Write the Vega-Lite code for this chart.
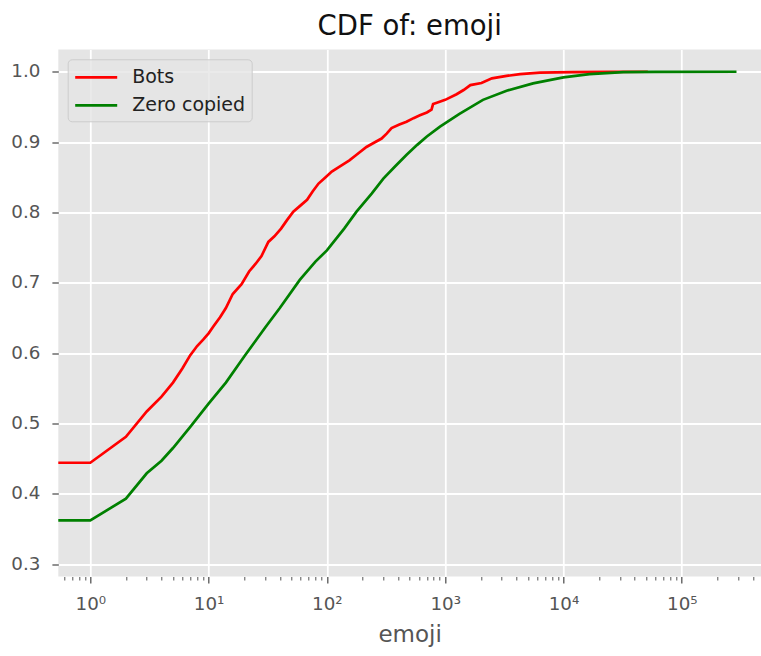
{
  "$schema": "https://vega.github.io/schema/vega-lite/v6.json",
  "width": 702.7,
  "height": 527,
  "autosize": {"type": "none"},
  "padding": {"left": 58.3, "top": 49.5, "right": 0, "bottom": 79.5},
  "background": "#ffffff",
  "title": {
    "text": "CDF of: emoji",
    "font": "DejaVu Sans",
    "fontSize": 27.5,
    "fontWeight": "normal",
    "color": "#111111",
    "anchor": "middle",
    "baseline": "alphabetic",
    "offset": 14.5,
    "dy": 27
  },
  "config": {
    "view": {"fill": "#e5e5e5", "stroke": null},
    "font": "DejaVu Sans"
  },
  "data": {
    "values": [
      {"series": "Bots", "x": 0.5, "y": 0.444},
      {"series": "Bots", "x": 1, "y": 0.444},
      {"series": "Bots", "x": 2, "y": 0.481},
      {"series": "Bots", "x": 3, "y": 0.517},
      {"series": "Bots", "x": 4, "y": 0.538},
      {"series": "Bots", "x": 5, "y": 0.558},
      {"series": "Bots", "x": 6, "y": 0.578},
      {"series": "Bots", "x": 7, "y": 0.597},
      {"series": "Bots", "x": 8, "y": 0.61},
      {"series": "Bots", "x": 9, "y": 0.619},
      {"series": "Bots", "x": 10, "y": 0.628},
      {"series": "Bots", "x": 11, "y": 0.638},
      {"series": "Bots", "x": 12.5, "y": 0.651},
      {"series": "Bots", "x": 14, "y": 0.664},
      {"series": "Bots", "x": 16, "y": 0.684},
      {"series": "Bots", "x": 19, "y": 0.698},
      {"series": "Bots", "x": 22, "y": 0.716},
      {"series": "Bots", "x": 25, "y": 0.727},
      {"series": "Bots", "x": 28, "y": 0.738},
      {"series": "Bots", "x": 32, "y": 0.758},
      {"series": "Bots", "x": 36, "y": 0.766},
      {"series": "Bots", "x": 41, "y": 0.777},
      {"series": "Bots", "x": 46, "y": 0.789},
      {"series": "Bots", "x": 52, "y": 0.801},
      {"series": "Bots", "x": 60, "y": 0.81},
      {"series": "Bots", "x": 68, "y": 0.818},
      {"series": "Bots", "x": 76, "y": 0.83},
      {"series": "Bots", "x": 85, "y": 0.841},
      {"series": "Bots", "x": 96, "y": 0.849},
      {"series": "Bots", "x": 110, "y": 0.858},
      {"series": "Bots", "x": 133, "y": 0.867},
      {"series": "Bots", "x": 155, "y": 0.874},
      {"series": "Bots", "x": 178, "y": 0.882},
      {"series": "Bots", "x": 216, "y": 0.893},
      {"series": "Bots", "x": 250, "y": 0.899},
      {"series": "Bots", "x": 290, "y": 0.905},
      {"series": "Bots", "x": 320, "y": 0.912},
      {"series": "Bots", "x": 352, "y": 0.92},
      {"series": "Bots", "x": 410, "y": 0.925},
      {"series": "Bots", "x": 471, "y": 0.929},
      {"series": "Bots", "x": 540, "y": 0.934},
      {"series": "Bots", "x": 611, "y": 0.938},
      {"series": "Bots", "x": 700, "y": 0.942},
      {"series": "Bots", "x": 766, "y": 0.946},
      {"series": "Bots", "x": 790, "y": 0.954},
      {"series": "Bots", "x": 850, "y": 0.956},
      {"series": "Bots", "x": 1000, "y": 0.96},
      {"series": "Bots", "x": 1248, "y": 0.968},
      {"series": "Bots", "x": 1431, "y": 0.974},
      {"series": "Bots", "x": 1632, "y": 0.981},
      {"series": "Bots", "x": 2026, "y": 0.984},
      {"series": "Bots", "x": 2483, "y": 0.9906},
      {"series": "Bots", "x": 3306, "y": 0.994},
      {"series": "Bots", "x": 4296, "y": 0.9967},
      {"series": "Bots", "x": 6320, "y": 0.9986},
      {"series": "Bots", "x": 12000, "y": 0.9995},
      {"series": "Bots", "x": 25000, "y": 0.9998},
      {"series": "Bots", "x": 51600, "y": 1.0},
      {"series": "Zero copied", "x": 0.5, "y": 0.362},
      {"series": "Zero copied", "x": 1, "y": 0.362},
      {"series": "Zero copied", "x": 2, "y": 0.393},
      {"series": "Zero copied", "x": 3, "y": 0.429},
      {"series": "Zero copied", "x": 4, "y": 0.447},
      {"series": "Zero copied", "x": 5, "y": 0.465},
      {"series": "Zero copied", "x": 7, "y": 0.495},
      {"series": "Zero copied", "x": 10, "y": 0.528},
      {"series": "Zero copied", "x": 14, "y": 0.558},
      {"series": "Zero copied", "x": 20, "y": 0.595},
      {"series": "Zero copied", "x": 30, "y": 0.636},
      {"series": "Zero copied", "x": 40, "y": 0.664},
      {"series": "Zero copied", "x": 59, "y": 0.704},
      {"series": "Zero copied", "x": 80, "y": 0.73},
      {"series": "Zero copied", "x": 100, "y": 0.746},
      {"series": "Zero copied", "x": 140, "y": 0.777},
      {"series": "Zero copied", "x": 178, "y": 0.801},
      {"series": "Zero copied", "x": 240, "y": 0.827},
      {"series": "Zero copied", "x": 300, "y": 0.848},
      {"series": "Zero copied", "x": 380, "y": 0.866},
      {"series": "Zero copied", "x": 472, "y": 0.882},
      {"series": "Zero copied", "x": 580, "y": 0.896},
      {"series": "Zero copied", "x": 700, "y": 0.908},
      {"series": "Zero copied", "x": 904, "y": 0.922},
      {"series": "Zero copied", "x": 1320, "y": 0.94},
      {"series": "Zero copied", "x": 2085, "y": 0.96},
      {"series": "Zero copied", "x": 3306, "y": 0.973},
      {"series": "Zero copied", "x": 5530, "y": 0.9835},
      {"series": "Zero copied", "x": 9980, "y": 0.992},
      {"series": "Zero copied", "x": 16600, "y": 0.9967},
      {"series": "Zero copied", "x": 32000, "y": 0.9994},
      {"series": "Zero copied", "x": 60000, "y": 0.9999},
      {"series": "Zero copied", "x": 290000, "y": 1.0}
    ]
  },
  "mark": {"type": "line", "clip": true, "strokeWidth": 2.7},
  "encoding": {
    "x": {
      "field": "x",
      "type": "quantitative",
      "scale": {"type": "log", "domain": [0.5365, 467200], "nice": false},
      "axis": {
        "title": "emoji",
        "titleFont": "DejaVu Sans",
        "titleFontSize": 23,
        "titleFontWeight": "normal",
        "titleColor": "#555555",
        "titlePadding": 10,
        "values": [0.6, 0.7, 0.8, 0.9, 1, 2, 3, 4, 5, 6, 7, 8, 9, 10, 20, 30, 40, 50, 60, 70, 80, 90, 100, 200, 300, 400, 500, 600, 700, 800, 900, 1000, 2000, 3000, 4000, 5000, 6000, 7000, 8000, 9000, 10000, 20000, 30000, 40000, 50000, 60000, 70000, 80000, 90000, 100000, 200000, 300000, 400000],
        "labelExpr": "abs(log(datum.value)/LN10 - round(log(datum.value)/LN10)) < 1e-6 ? '10' + ['⁰','¹','²','³','⁴','⁵'][round(log(datum.value)/LN10)] : ''",
        "labelFont": "DejaVu Sans",
        "labelFontSize": 18.3,
        "labelColor": "#555555",
        "labelPadding": 13,
        "labelFlush": false,
        "labelOverlap": false,
        "domain": false,
        "tickColor": "#555555",
        "tickSize": {"condition": {"test": "abs(log(datum.value)/LN10 - round(log(datum.value)/LN10)) < 1e-6", "value": 6.4}, "value": 3.5},
        "tickWidth": {"condition": {"test": "abs(log(datum.value)/LN10 - round(log(datum.value)/LN10)) < 1e-6", "value": 1.3}, "value": 1},
        "grid": true,
        "gridColor": "#ffffff",
        "gridWidth": 1.8,
        "gridOpacity": {"condition": {"test": "abs(log(datum.value)/LN10 - round(log(datum.value)/LN10)) < 1e-6", "value": 1}, "value": 0}
      }
    },
    "y": {
      "field": "y",
      "type": "quantitative",
      "scale": {"domain": [0.2823, 1.0316], "nice": false, "zero": false},
      "axis": {
        "title": null,
        "values": [0.3, 0.4, 0.5, 0.6, 0.7, 0.8, 0.9, 1.0],
        "format": ".1f",
        "labelFont": "DejaVu Sans",
        "labelFontSize": 18.3,
        "labelColor": "#555555",
        "labelPadding": 12,
        "labelFlush": false,
        "domain": false,
        "tickColor": "#555555",
        "tickSize": 6.4,
        "tickWidth": 1.3,
        "grid": true,
        "gridColor": "#ffffff",
        "gridWidth": 1.8
      }
    },
    "color": {
      "field": "series",
      "type": "nominal",
      "scale": {"domain": ["Bots", "Zero copied"], "range": ["#ff0000", "#008000"]},
      "legend": {
        "title": null,
        "orient": "none",
        "legendX": 9.4,
        "legendY": 9.8,
        "symbolType": "M-2,0H2",
        "symbolSize": 441,
        "symbolOffset": 10.5,
        "symbolStrokeWidth": 2.7,
        "labelFont": "DejaVu Sans",
        "labelFontSize": 19,
        "labelColor": "#222222",
        "labelOffset": 24,
        "padding": 6,
        "rowPadding": 6,
        "cornerRadius": 4,
        "strokeColor": "#cccccc",
        "fillColor": "rgba(229,229,229,0.8)"
      }
    }
  }
}
